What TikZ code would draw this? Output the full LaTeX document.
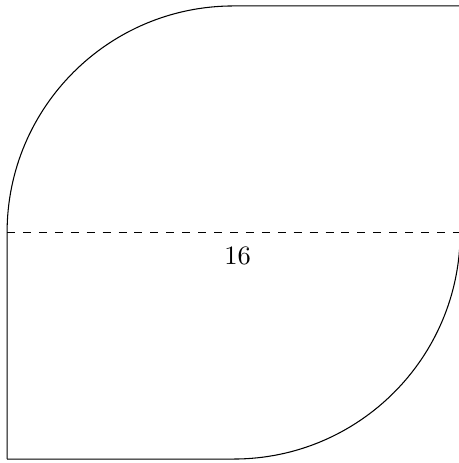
\documentclass[tikz,border=0pt]{standalone}
\begin{document}
\begin{tikzpicture}[scale=0.375]
                 \useasboundingbox (-0.25,-8.14) rectangle (15.93,8.21);
                 \coordinate (left) at (0,0);
                 \coordinate (right) at (16,0);

                 \draw (0,-8) -- (left) arc (180:90:8) -- (16,8);
                 \draw (16,0) arc (0:-90:8) -- (0,-8);

                 \draw[dashed] (left) -- node[below=2pt, xshift=1.5pt] (width) {16} (right);
            \end{tikzpicture}
\end{document}
